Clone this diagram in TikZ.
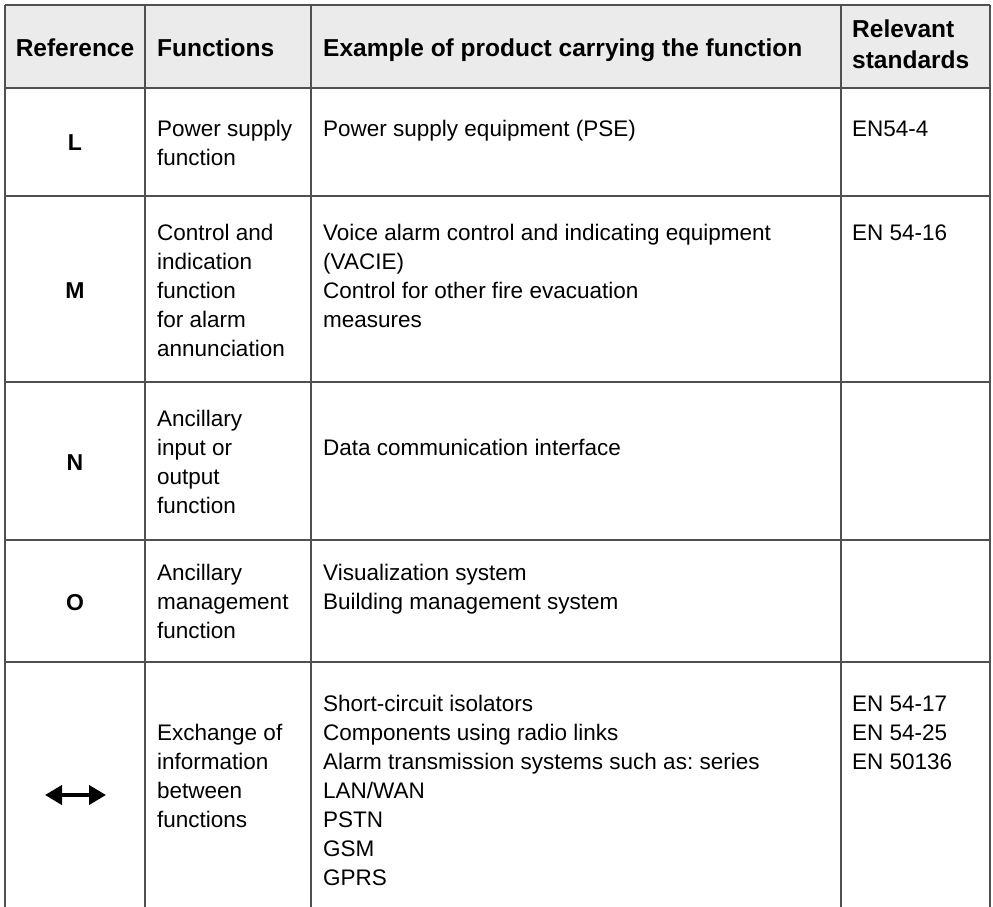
\documentclass[tikz,border=0pt]{standalone}
\usepackage{fontspec}
\setmainfont{Liberation Sans}
\frenchspacing
\usetikzlibrary{arrows.meta}
\definecolor{rulegray}{HTML}{505050}
\definecolor{headgray}{HTML}{EBEBEB}
\begin{document}
\begin{tikzpicture}[x=1pt,y=-1pt,
  rule/.style={draw=rulegray,line width=1.8pt},
  txt/.style={anchor=base west,inner sep=0pt,font=\fontsize{22.5}{27}\selectfont},
  head/.style={anchor=base west,inner sep=0pt,font=\fontsize{24.5}{30}\selectfont\bfseries},
  refl/.style={anchor=base,inner sep=0pt,font=\fontsize{23}{27}\selectfont\bfseries}]
\useasboundingbox (0,0) rectangle (993,907);
\fill[headgray] (5,5) rectangle (990,88);
% table rules, bottom left open
\foreach \y in {5,88,196,382,540,662} \draw[rule] (5,\y) -- (990,\y);
\foreach \x in {5,145,311,841,990} \draw[rule] (\x,5) -- (\x,907);
% header
\node[head,anchor=base] (hRef) at (75,57) {Reference};
\node[head] (hFun) at (157,57) {Functions};
\node[head] (hExa) at (323,57) {Example of product carrying the function};
\node[head] (hStd1) at (852,37.5) {Relevant};
\node[head] (hStd2) at (852,68.5) {standards};
% row L
\node[refl] (refL) at (75,150) {L};
\foreach \t [count=\i from 0] in {Power supply, function}
  \node[txt] (funL\i) at (157,{136+29*\i}) {\t};
\node[txt] (exaL0) at (323,136) {Power supply equipment (PSE)};
\node[txt] (stdL0) at (852,136) {EN54-4};
% row M
\node[refl] (refM) at (75,298) {M};
\foreach \t [count=\i from 0] in {Control and, indication, function, for alarm, annunciation}
  \node[txt] (funM\i) at (157,{240+29*\i}) {\t};
\foreach \t [count=\i from 0] in {Voice alarm control and indicating equipment, {(VACIE)}, Control for other fire evacuation, measures}
  \node[txt] (exaM\i) at (323,{240+29*\i}) {\t};
\node[txt] (stdM0) at (852,240) {EN 54-16};
% row N
\node[refl] (refN) at (75,470) {N};
\foreach \t [count=\i from 0] in {Ancillary, input or, output, function}
  \node[txt] (funN\i) at (157,{426+29*\i}) {\t};
\node[txt] (exaN0) at (323,455) {Data communication interface};
% row O
\node[refl] (refO) at (75,610) {O};
\foreach \t [count=\i from 0] in {Ancillary, management, function}
  \node[txt] (funO\i) at (157,{580+29*\i}) {\t};
\foreach \t [count=\i from 0] in {Visualization system, Building management system}
  \node[txt] (exaO\i) at (323,{580+29*\i}) {\t};
% exchange row
\coordinate (xchL) at (45,795);
\coordinate (xchR) at (106,795);
\draw[line width=4pt,{Triangle[length=17pt,width=19pt]}-{Triangle[length=17pt,width=19pt]}] (xchL) -- (xchR);
\foreach \t [count=\i from 0] in {Exchange of, information, between, functions}
  \node[txt] (funX\i) at (157,{740+29*\i}) {\t};
\foreach \t [count=\i from 0] in {Short-circuit isolators, Components using radio links, Alarm transmission systems such as: series, LAN/WAN, PSTN, GSM, GPRS}
  \node[txt] (exaX\i) at (323,{711+29*\i}) {\t};
\foreach \t [count=\i from 0] in {EN 54-17, EN 54-25, EN 50136}
  \node[txt] (stdX\i) at (852,{711+29*\i}) {\t};
\end{tikzpicture}
\end{document}
